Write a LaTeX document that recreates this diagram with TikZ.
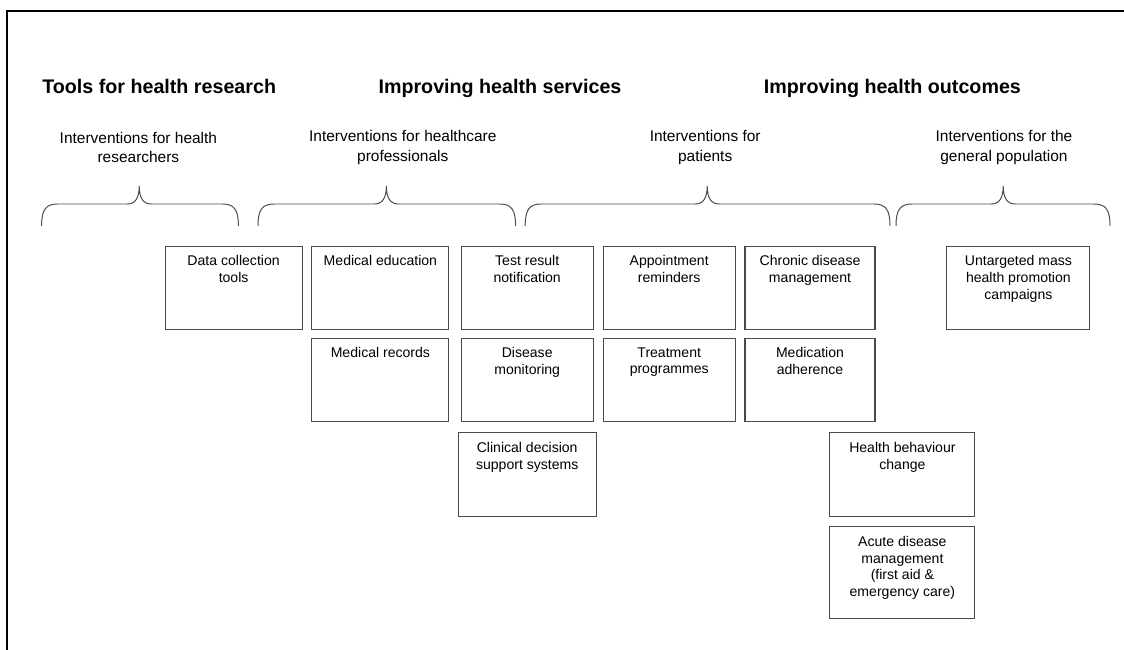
\documentclass[tikz,border=0pt]{standalone}
\usepackage{fontspec}
\setmainfont{Liberation Sans}
\definecolor{edgegrey}{HTML}{4A4A4A}
\def\topbrace(#1:#2:#3){\draw[brace] (#1,10.6) .. controls (#1,11.0) and ({#1+0.1},11.15) .. ({#1+0.4},11.15) -- ({#2-0.3},11.15) .. controls ({#2-0.1},11.15) and (#2,11.3) .. (#2,11.6) .. controls (#2,11.3) and ({#2+0.1},11.15) .. ({#2+0.3},11.15) -- ({#3-0.4},11.15) .. controls ({#3-0.1},11.15) and (#3,11.0) .. (#3,10.6);}

\begin{document}
\begin{tikzpicture}[
	title/.style={font=\fontsize{14}{16}\selectfont\bfseries, text height=0.75em, text depth=0.25em},
	group/.style={align=center, font=\fontsize{11}{14}\selectfont},
	brace/.style={draw=edgegrey, line width=0.7pt},
	box/.style={draw=edgegrey, line width=0.8pt, minimum height=2.075cm, inner sep=0pt},
	boxtext/.style={anchor=north, align=center, yshift=-3.5pt, font=\fontsize{10}{11.9}\selectfont}
	]
			%%%%% FRAME %%%%%
			\useasboundingbox (0, 0) rectangle (28.1, 16.25);
			\draw[line width=1.4pt] (0.17, 0) -- (0.17, 15.975) -- (28.1, 15.975);
			
			%%%%% HEADINGS %%%%%
			\node[title] (research) at (3.98, 14.0) {Tools for health research};
			\node[title] (services) at (12.5, 14.0) {Improving health services};
			\node[title] (outcomes) at (22.31, 14.0) {Improving health outcomes};
			
			\node[group] (forresearchers) at (3.46, 12.56) {Interventions for health\\researchers};
			\node[group] (forprofessionals) at (10.07, 12.56) {Interventions for healthcare\\professionals};
			\node[group] (forpatients) at (17.63, 12.56) {Interventions for\\patients};
			\node[group] (forpopulation) at (25.1, 12.56) {Interventions for the\\general population};
			
			\topbrace(1.04:3.48:5.96)
			\topbrace(6.45:9.66:12.89)
			\topbrace(13.13:17.68:22.25)
			\topbrace(22.4:25.08:27.75)
			
			%%%%% BOXES %%%%%
			\node[box, minimum width=3.425cm, label={[boxtext]north:Data collection\\tools}] (datatools) at (5.84, 9.06) {};
			
			\node[box, minimum width=3.425cm, label={[boxtext]north:Medical education}] (mededu) at (9.51, 9.06) {};
			\node[box, minimum width=3.425cm, label={[boxtext]north:Medical records}] (medrec) at (9.51, 6.76) {};
			
			\node[box, minimum width=3.3cm, label={[boxtext]north:Test result\\notification}] (testresult) at (13.18, 9.06) {};
			\node[box, minimum width=3.3cm, label={[boxtext]north:Disease\\monitoring}] (diseasemon) at (13.18, 6.76) {};
			\node[box, minimum width=3.45cm, minimum height=2.1cm, label={[boxtext]north:Clinical decision\\support systems}] (clinical) at (13.18, 4.38) {};
			
			\node[box, minimum width=3.3cm, label={[boxtext]north:Appointment\\reminders}] (appoint) at (16.73, 9.06) {};
			\node[box, minimum width=3.3cm, label={[boxtext]north:Treatment\\programmes}] (treatment) at (16.73, 6.76) {};
			
			\node[box, minimum width=3.25cm, label={[boxtext]north:Chronic disease\\management}] (chronic) at (20.25, 9.06) {};
			\node[box, minimum width=3.25cm, label={[boxtext]north:Medication\\adherence}] (adherence) at (20.25, 6.76) {};
			
			\node[box, minimum width=3.625cm, minimum height=2.1cm, label={[boxtext]north:Health behaviour\\change}] (behaviour) at (22.56, 4.38) {};
			\node[box, minimum width=3.625cm, minimum height=2.3cm, label={[boxtext]north:Acute disease\\management\\(first aid \&\\emergency care)}] (acute) at (22.56, 1.93) {};
			
			\node[box, minimum width=3.575cm, label={[boxtext]north:Untargeted mass\\health promotion\\campaigns}] (masscampaign) at (25.46, 9.06) {};
			
\end{tikzpicture}
\end{document}
